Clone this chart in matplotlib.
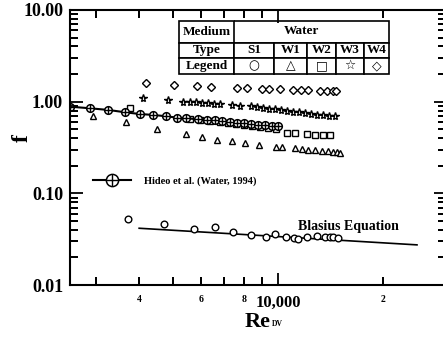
import matplotlib
matplotlib.use('Agg')
import matplotlib.pyplot as plt
from matplotlib.lines import TICKUP, TICKDOWN, TICKLEFT, TICKRIGHT
from matplotlib.ticker import NullLocator
from matplotlib.legend_handler import HandlerTuple

plt.rcParams['font.family'] = ['Liberation Serif', 'DejaVu Sans']
plt.rcParams['font.weight'] = 'bold'

# Hideo et al. (Water, 1994)
hideo_re = [2535, 2892, 3264, 3646, 4010, 4397, 4776, 5146, 5448, 5911, 6248, 6600, 6912,
            7287, 7630, 7990, 8367, 8762, 9179, 9612, 10000]
hideo_f = [0.882, 0.847, 0.812, 0.766, 0.734, 0.716, 0.693, 0.669, 0.659, 0.643, 0.632, 0.624,
           0.613, 0.600, 0.589, 0.578, 0.571, 0.560, 0.553, 0.543, 0.537]

# W1 (triangles)
w1_re = [2958, 3676, 4514, 5448, 6045, 6670, 7365, 8043, 8840, 9869, 10270, 11190, 11690,
         12210, 12760, 13340, 13940, 14400, 14750, 15030]
w1_f = [0.703, 0.605, 0.504, 0.441, 0.409, 0.382, 0.373, 0.352, 0.337, 0.323, 0.323, 0.311,
        0.306, 0.298, 0.296, 0.293, 0.290, 0.285, 0.280, 0.277]

# W2 (squares)
w2_re = [3767, 5596, 5977, 6385, 6822, 7190, 7585, 7990, 8425, 8880, 9363, 9869, 10590,
         11190, 12080, 12760, 13480, 14090]
w2_f = [0.847, 0.648, 0.632, 0.616, 0.600, 0.586, 0.571, 0.557, 0.543, 0.530, 0.517, 0.498,
        0.459, 0.453, 0.441, 0.437, 0.433, 0.433]

# W3 (stars)
w3_re = [4113, 4853, 5343, 5597, 5821, 6056, 6300, 6556, 6821, 7383, 7782, 8367, 8707, 9059,
         9424, 9804, 10200, 10612, 11040, 11487, 11953, 12434, 12934, 13456, 13998, 14565]
w3_f = [1.089, 1.04, 1.000, 0.993, 0.983, 0.973, 0.963, 0.953, 0.944, 0.914, 0.907, 0.887,
        0.869, 0.854, 0.839, 0.822, 0.806, 0.792, 0.778, 0.763, 0.747, 0.734, 0.723, 0.713,
        0.702, 0.693]

# W4 (diamonds)
w4_re = [4178, 5035, 5848, 6410, 7630, 8170, 8980, 9450, 10130, 11060, 11620, 12210, 13190,
         13790, 14400, 14700]
w4_f = [1.61, 1.52, 1.48, 1.46, 1.42, 1.42, 1.365, 1.365, 1.365, 1.34, 1.34, 1.34, 1.32,
        1.32, 1.32, 1.32]

# S1 (open circles, near Blasius)
s1_re = [3726, 4721, 5754, 6597, 7448, 8372, 9223, 9803, 10540, 11130, 11380, 12140, 12960,
         13630, 14090, 14400, 14890]
s1_f = [0.0522, 0.0464, 0.0409, 0.0424, 0.0377, 0.0353, 0.0333, 0.0359, 0.0330, 0.0324,
        0.0318, 0.0337, 0.0343, 0.0333, 0.0333, 0.0333, 0.0324]

# Blasius equation line
blasius_re = [4000, 25000]
blasius_f = [0.0416, 0.0274]

table_types = ['S1', 'W1', 'W2', 'W3', 'W4']
table_symbols = ['\u25cb', '\u25b3', '\u25a1', '\u2606', '\u25c7']

x_ticks = [3000, 4000, 5000, 6000, 7000, 8000, 9000, 10000, 20000]
x_tick_labels = ['', '4', '', '6', '', '8', '', '10,000', '2']
y_ticks = [m * 10.0 ** e for e in (-2, -1, 0) for m in range(1, 10)] + [10]
y_tick_labels = ['0.01'] + [''] * 8 + ['0.10'] + [''] * 8 + ['1.00'] + [''] * 8 + ['10.00']

fig = plt.figure(figsize=(4.43, 3.37), dpi=100)
ax = fig.add_axes([70 / 443, 52 / 337, 376 / 443, 275 / 337])
ax.set_xscale('log')
ax.set_yscale('log')

mk = dict(ls='none', mfc='white', mec='k', mew=1.0)
ax.plot(blasius_re, blasius_f, '-', color='k', lw=1.2)
ax.plot(s1_re, s1_f, marker='o', ms=4.8, **mk)
ax.plot(w1_re, w1_f, marker='^', ms=4.6, **mk)
ax.plot(w2_re, w2_f, marker='s', ms=5, **mk)
ax.plot(w3_re, w3_f, marker='*', ms=5.8, **mk)
ax.plot(w4_re, w4_f, marker='D', ms=4, **mk)
h_line, = ax.plot(hideo_re, hideo_f, '-', color='k', lw=1.5, marker='o', ms=5.5,
                  mfc='white', mec='k', mew=1.1)
h_plus, = ax.plot(hideo_re, hideo_f, ls='none', marker='+', ms=5.5, mec='k', mew=1.0)

ax.text(11410, 0.0433, 'Blasius Equation', fontsize=10, fontweight='bold', va='center')

ax.legend([(h_line, h_plus)], ['Hideo et al. (Water, 1994)'],
          handler_map={tuple: HandlerTuple(ndivide=1)},
          loc='center left', bbox_to_anchor=(0.062, 0.379), frameon=False,
          borderpad=0, borderaxespad=0, handlelength=3.6, handletextpad=1.3,
          markerscale=1.6, prop=dict(family='Liberation Serif', weight='bold', size=7.5))

ax.set_xticks(x_ticks, x_tick_labels)
ax.set_yticks(y_ticks, y_tick_labels)
ax.xaxis.set_minor_locator(NullLocator())
ax.yaxis.set_minor_locator(NullLocator())
ax.set_xlim(2535, 30270)
ax.set_ylim(0.01, 10)

ax.tick_params(which='major', direction='in', top=True, right=True, width=1.3, length=5.5)
ax.tick_params(axis='x', pad=7, labelsize=7)
ax.tick_params(axis='y', pad=5, labelsize=13)
for tick, lab in zip(ax.xaxis.get_major_ticks(), x_tick_labels):
    tick.label1.set_fontweight('bold')
    if lab == '10,000':
        tick.label1.set_fontsize(12)
        tick.tick1line.set_markersize(9)
        tick.tick2line.set_markersize(9)
for tick, lab in zip(ax.yaxis.get_major_ticks(), y_tick_labels):
    tick.label1.set_fontweight('bold')
    if lab:
        tick.tick1line.set_markersize(9)
        tick.tick2line.set_markersize(9)
for sp in ax.spines.values():
    sp.set_linewidth(1.5)

# short tick marks drawn again on top, at the unlabelled tick positions
x_short = [t for t, lab in zip(x_ticks, x_tick_labels) if lab != '10,000']
y_short = [t for t, lab in zip(y_ticks, y_tick_labels) if not lab]
tk = dict(ls='none', color='k', ms=5.5, mew=1.3, clip_on=False, zorder=10)
ax.plot(x_short, [0] * len(x_short), transform=ax.get_xaxis_transform(), marker=TICKUP, **tk)
ax.plot(x_short, [1] * len(x_short), transform=ax.get_xaxis_transform(), marker=TICKDOWN, **tk)
ax.plot([0] * len(y_short), y_short, transform=ax.get_yaxis_transform(), marker=TICKRIGHT, **tk)
ax.plot([1] * len(y_short), y_short, transform=ax.get_yaxis_transform(), marker=TICKLEFT, **tk)
ax.set_xlim(2535, 30270)
ax.set_ylim(0.01, 10)

ax.set_xlabel('Re', fontsize=16, fontweight='bold', labelpad=1)
ax.annotate('DV', xy=(1, 0), xycoords=ax.xaxis.label, xytext=(0.5, 3),
            textcoords='offset points', fontsize=5.5, fontweight='bold', va='bottom')
ax.set_ylabel('f', fontsize=17, fontweight='bold')
ax.yaxis.set_label_coords(-0.10, 0.535)

# table legend
cell_text = [['Medium', '', '', '', '', ''],
             ['Type'] + table_types,
             ['Legend'] + table_symbols]
col_w = [55, 40, 33, 29, 28, 25]
tbl = ax.table(cellText=cell_text, colWidths=[w / 210 for w in col_w], cellLoc='center',
               bbox=[0.290, 0.767, 0.558, 0.194])
tbl.auto_set_font_size(False)
tbl.set_fontsize(9.5)
row_h = [0.41, 0.28, 0.31]
for (r, c), cell in tbl.get_celld().items():
    cell.set_height(row_h[r])
    cell.set_linewidth(1.2)
    cell.PAD = 0.05
    cell.get_text().set_fontweight('bold')
    if r == 0 and c >= 1:
        cell.visible_edges = 'BTR' if c == 5 else 'BT'
    if r == 2 and c >= 1:
        cell.get_text().set_fontfamily(['DejaVu Sans'])
        cell.get_text().set_fontsize(9)
ax.text(0.617, 0.922, 'Water', transform=ax.transAxes, ha='center', va='center',
        fontsize=9.5, fontweight='bold')

fig.savefig('out.png', dpi=100)
